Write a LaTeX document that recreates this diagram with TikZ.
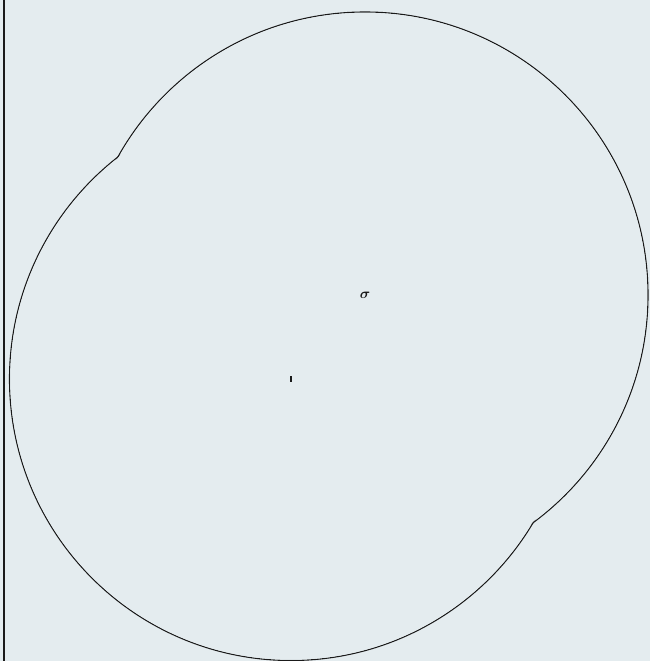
\documentclass[tikz,border=0pt]{standalone}
\usetikzlibrary{calc}
\definecolor{bgc}{HTML}{E4ECEF}
\definecolor{ink}{HTML}{1A1A1A}
\begin{document}
\begin{tikzpicture}[x=1pt,y=-1pt,
  outline/.style={draw=ink,line width=1.1pt},
  eraser/.style={fill=bgc,draw=none}]
\useasboundingbox (0,0) rectangle (650,661);
\fill[bgc] (0,0) rectangle (650,661);
\draw[ink,line width=2pt] (4,0) -- (4,661);
\coordinate (A) at (365,295);
\coordinate (B) at (291,379);
\draw[outline] (A) circle[radius=283];
\draw[outline] (B) circle[radius=281.5];
\fill[eraser] (A) circle[radius=282.2];
\fill[eraser] (B) circle[radius=280.7];
\node[inner sep=0pt,font=\Large\boldmath,text=ink] (sig) at (A) {$\sigma$};
\fill[ink] ($(B)+(-1,-3)$) rectangle ($(B)+(1,3)$);
\end{tikzpicture}
\end{document}
